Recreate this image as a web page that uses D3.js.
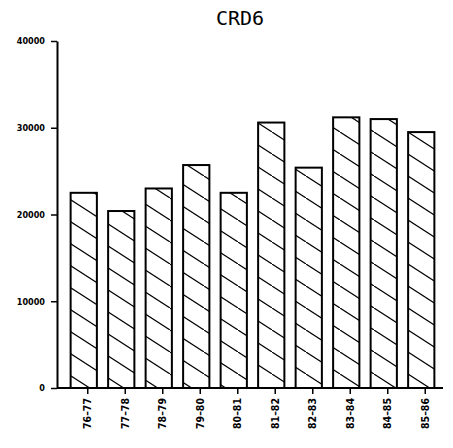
<!DOCTYPE html>
<html><head><meta charset="utf-8">
<script src="https://cdn.jsdelivr.net/npm/d3@7"></script>
<style>html,body{margin:0;padding:0;background:#fff;}svg{display:block;}</style>
</head><body>
<script>
const title = "CRD6";
const categories = ["76–77","77–78","78–79","79–80","80–81","81–82","82–83","83–84","84–85","85–86"];
const values = [22500, 20400, 23000, 25700, 22500, 30600, 25400, 31200, 31000, 29500];
const yTicks = [0, 10000, 20000, 30000, 40000];

const W = 453, H = 448;
const svg = d3.select("body").append("svg").attr("width", W).attr("height", H);

const defs = svg.append("defs");
const pat = defs.append("pattern").attr("id","hatch").attr("patternUnits","userSpaceOnUse")
  .attr("width", 34).attr("height", 22);
pat.append("rect").attr("width",34).attr("height",22).attr("fill","#fff");
pat.append("line").attr("x1",0).attr("y1",0).attr("x2",34).attr("y2",22)
  .attr("stroke","#000").attr("stroke-width",1.2);

const y = d3.scaleLinear().domain([0, 40000]).range([388, 41]);
const x = d3.scaleBand().domain(categories).range([65, 440]).paddingInner(0.3).paddingOuter(0.15);
const axisX = 57;

svg.append("text").attr("x", 240).attr("y", 25).attr("text-anchor","middle")
  .attr("font-family","DejaVu Sans Mono, monospace").attr("font-size", 20).text(title);

// bars
svg.append("g").selectAll("rect").data(values).join("rect")
  .attr("x", (d,i) => x(categories[i]))
  .attr("y", d => y(d))
  .attr("width", x.bandwidth())
  .attr("height", d => y(0) - y(d))
  .attr("fill","url(#hatch)").attr("stroke","#000").attr("stroke-width",2);

// y axis
const ya = svg.append("g").attr("transform", `translate(${axisX},0)`)
  .call(d3.axisLeft(y).tickValues(yTicks).tickSize(6).tickSizeOuter(0).tickFormat(d3.format("d")));
ya.select(".domain").attr("stroke-width",2);
ya.selectAll(".tick line").attr("stroke-width",1.5);
ya.selectAll("text").attr("font-family","DejaVu Sans Condensed, DejaVu Sans, sans-serif")
  .attr("font-weight","bold").attr("font-size",9).attr("x",-12);

// x axis
const xa = svg.append("g").attr("transform", `translate(0,${y(0)})`)
  .call(d3.axisBottom(x).tickSize(6).tickSizeOuter(0));
xa.select(".domain").attr("d", `M${axisX},0H443`).attr("stroke-width",2);
xa.selectAll(".tick line").attr("stroke-width",1.5).attr("transform","translate(4,0)");
xa.selectAll("text")
  .attr("font-family","DejaVu Sans Condensed, DejaVu Sans, sans-serif")
  .attr("font-weight","bold").attr("font-size",10.5)
  .attr("text-anchor","end").attr("dy","0.35em")
  .attr("transform","translate(4,0) rotate(-90)")
  .attr("x",-10).attr("y",0);
</script>
</body></html>
